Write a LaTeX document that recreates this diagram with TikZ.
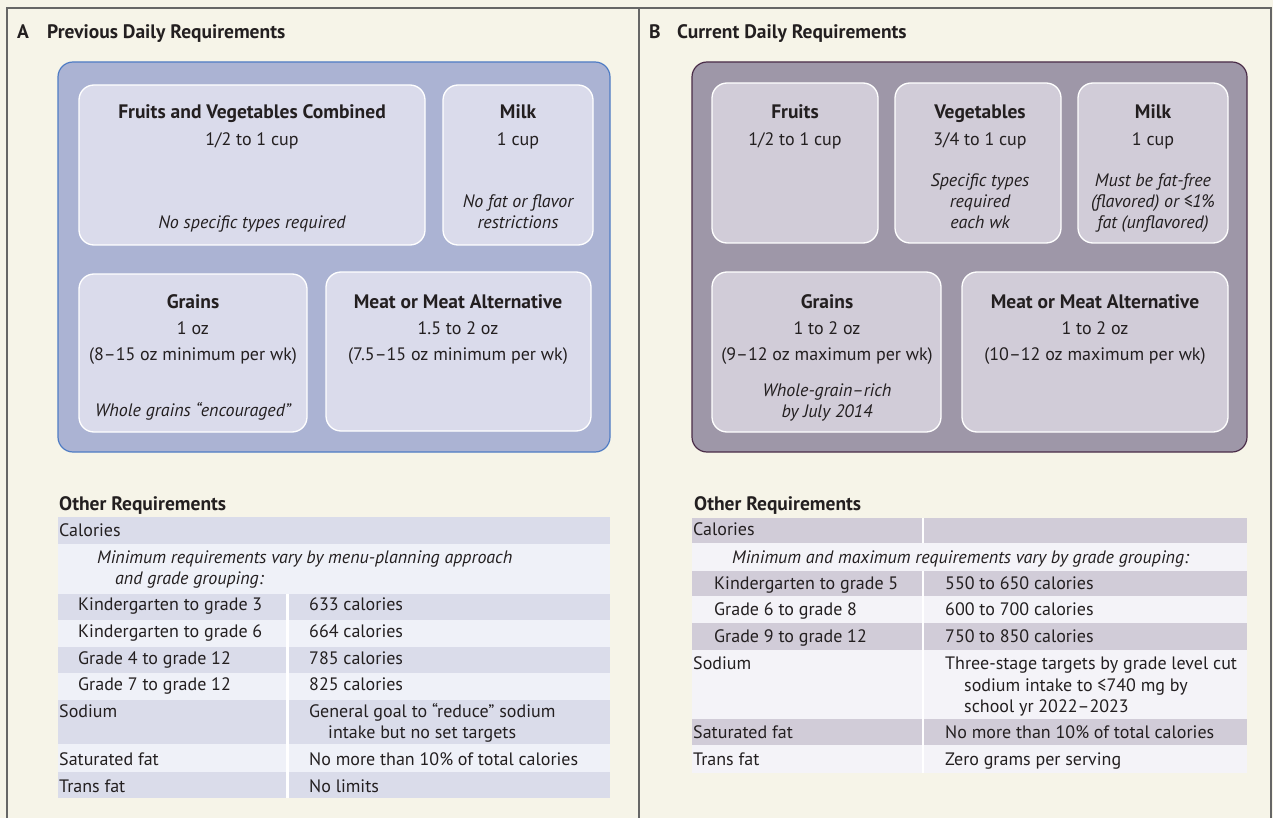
\documentclass[tikz,border=0pt]{standalone}
\usepackage{fontspec}
\setmainfont{PT Sans}
\definecolor{cream}{HTML}{F6F4E8}
\definecolor{framec}{HTML}{666666}
\definecolor{ink}{HTML}{231F20}
\definecolor{bigAfill}{HTML}{ABB3D3}
\definecolor{bigAline}{HTML}{4F7CC4}
\definecolor{inAfill}{HTML}{DADBEB}
\definecolor{rowAdark}{HTML}{DADCEA}
\definecolor{rowAlight}{HTML}{EFF1F8}
\definecolor{bigBfill}{HTML}{9E97A8}
\definecolor{bigBline}{HTML}{4A2C48}
\definecolor{inBfill}{HTML}{D1CCD8}
\definecolor{rowBdark}{HTML}{D1CCD8}
\definecolor{rowBlight}{HTML}{F4F3F8}
\tikzset{
  framel/.style={draw=framec, line width=2pt},
  bigA/.style={fill=bigAfill, draw=bigAline, line width=1.2pt, rounded corners=15pt},
  bigB/.style={fill=bigBfill, draw=bigBline, line width=1.2pt, rounded corners=15pt},
  inA/.style={fill=inAfill, draw=white, line width=1.3pt, rounded corners=15pt},
  inB/.style={fill=inBfill, draw=white, line width=1.3pt, rounded corners=15pt},
  ptitle/.style={anchor=base west, inner sep=0, text=ink, font=\bfseries\fontsize{19.5}{22}\selectfont},
  ttl/.style={anchor=base, inner sep=0, text=ink, font=\bfseries\fontsize{19.5}{22}\selectfont},
  bod/.style={anchor=base, inner sep=0, text=ink, font=\fontsize{18}{21}\selectfont},
  itl/.style={anchor=base, inner sep=0, text=ink, font=\itshape\fontsize{18}{21}\selectfont},
  lft/.style={anchor=base west, inner sep=0, text=ink, font=\fontsize{18}{21}\selectfont},
  lfti/.style={anchor=base west, inner sep=0, text=ink, font=\itshape\fontsize{18}{21}\selectfont},
  othr/.style={anchor=base west, inner sep=0, text=ink, font=\bfseries\fontsize{19.5}{22}\selectfont},
  split/.style={draw=white, line width=2.2pt}
}
\begin{document}
\begin{tikzpicture}[x=1pt,y=-1pt]
\useasboundingbox (0,0) rectangle (1273,818);
\fill[cream] (0,0) rectangle (1273,818);
\draw[framel] (7,819) -- (7,8) -- (1271,8) -- (1271,819);
\draw[framel] (639,8) -- (639,819);

% ---------- Panel A ----------
\node[ptitle] (Aletter) at (17,39) {A};
\node[ptitle] (Atitle) at (47,39) {Previous Daily Requirements};
\draw[bigA] (58,62) rectangle (610,452);
\draw[inA] (79,85) rectangle (425,245);
\draw[inA] (443,85) rectangle (593,245);
\draw[inA] (79,274) rectangle (307,432);
\draw[inA] (326,272) rectangle (591,431);

\node[ttl] (afvT) at (252,119) {Fruits and Vegetables Combined};
\node[bod] (afvA) at (252,146) {1/2 to 1 cup};
\node[itl] (afvN) at (252,229) {No specific types required};

\node[ttl] (amkT) at (518,119) {Milk};
\node[bod] (amkA) at (518,146) {1 cup};
\node[itl] (amkN1) at (518,208) {No fat or flavor};
\node[itl] (amkN2) at (518,229) {restrictions};

\node[ttl] (agrT) at (193,308) {Grains};
\node[bod] (agrA) at (193,334) {1 oz};
\node[bod] (agrW) at (193,360) {(8–15 oz minimum per wk)};
\node[itl] (agrN) at (193,416) {Whole grains “encouraged”};

\node[ttl] (amtT) at (458,308) {Meat or Meat Alternative};
\node[bod] (amtA) at (458,334) {1.5 to 2 oz};
\node[bod] (amtW) at (458,360) {(7.5–15 oz minimum per wk)};

\node[othr] (aOther) at (59,510) {Other Requirements};
\fill[rowAdark]  (58,517) rectangle (610,544);
\fill[rowAlight] (58,544) rectangle (610,594);
\fill[rowAdark]  (58,594) rectangle (610,620);
\fill[rowAlight] (58,620) rectangle (610,647);
\fill[rowAdark]  (58,647) rectangle (610,673);
\fill[rowAlight] (58,673) rectangle (610,700);
\fill[rowAdark]  (58,700) rectangle (610,744);
\fill[rowAlight] (58,744) rectangle (610,772);
\fill[rowAdark]  (58,772) rectangle (610,798);
\draw[split] (287.5,594) -- (287.5,798);

\node[lft] (aCal) at (59,536) {Calories};
\node[lfti] (aNote1) at (97,563) {Minimum requirements vary by menu-planning approach};
\node[lfti] (aNote2) at (115,584) {and grade grouping:};
\node[lft] (aK3) at (78,610) {Kindergarten to grade 3};
\node[lft] (aK3v) at (309,610) {633 calories};
\node[lft] (aK6) at (78,637) {Kindergarten to grade 6};
\node[lft] (aK6v) at (309,637) {664 calories};
\node[lft] (aG4) at (78,664) {Grade 4 to grade 12};
\node[lft] (aG4v) at (309,664) {785 calories};
\node[lft] (aG7) at (78,690) {Grade 7 to grade 12};
\node[lft] (aG7v) at (309,690) {825 calories};
\node[lft] (aNa) at (59,717) {Sodium};
\node[lft] (aNav1) at (309,717) {General goal to “reduce” sodium};
\node[lft] (aNav2) at (328,738) {intake but no set targets};
\node[lft] (aSat) at (59,765) {Saturated fat};
\node[lft] (aSatv) at (309,765) {No more than 10\% of total calories};
\node[lft] (aTr) at (59,792) {Trans fat};
\node[lft] (aTrv) at (309,792) {No limits};

% ---------- Panel B ----------
\node[ptitle] (Bletter) at (649,39) {B};
\node[ptitle] (Btitle) at (677,39) {Current Daily Requirements};
\draw[bigB] (692,62) rectangle (1247,452);
\draw[inB] (712,83) rectangle (878,243);
\draw[inB] (895,83) rectangle (1061,243);
\draw[inB] (1078,83) rectangle (1228,243);
\draw[inB] (712,272) rectangle (941,432);
\draw[inB] (962,272) rectangle (1228,432);

\node[ttl] (bfrT) at (795,119) {Fruits};
\node[bod] (bfrA) at (795,146) {1/2 to 1 cup};

\node[ttl] (bvgT) at (980,119) {Vegetables};
\node[bod] (bvgA) at (980,146) {3/4 to 1 cup};
\node[itl] (bvgN1) at (980,187) {Specific types};
\node[itl] (bvgN2) at (980,208) {required};
\node[itl] (bvgN3) at (980,229) {each wk};

\node[ttl] (bmkT) at (1153,119) {Milk};
\node[bod] (bmkA) at (1153,146) {1 cup};
\node[itl] (bmkN1) at (1153,187) {Must be fat-free};
\node[itl] (bmkN2) at (1153,208) {(flavored) or ≤1\%};
\node[itl] (bmkN3) at (1153,229) {fat (unflavored)};

\node[ttl] (bgrT) at (827,308) {Grains};
\node[bod] (bgrA) at (827,334) {1 to 2 oz};
\node[bod] (bgrW) at (827,360) {(9–12 oz maximum per wk)};
\node[itl] (bgrN1) at (827,396) {Whole-grain–rich};
\node[itl] (bgrN2) at (827,417) {by July 2014};

\node[ttl] (bmtT) at (1095,308) {Meat or Meat Alternative};
\node[bod] (bmtA) at (1095,334) {1 to 2 oz};
\node[bod] (bmtW) at (1095,360) {(10–12 oz maximum per wk)};

\node[othr] (bOther) at (694,510) {Other Requirements};
\fill[rowBdark]  (692,518) rectangle (1247,543);
\fill[rowBlight] (692,543) rectangle (1247,571);
\fill[rowBdark]  (692,571) rectangle (1247,596);
\fill[rowBlight] (692,596) rectangle (1247,623);
\fill[rowBdark]  (692,623) rectangle (1247,650);
\fill[rowBlight] (692,650) rectangle (1247,719);
\fill[rowBdark]  (692,719) rectangle (1247,745);
\fill[rowBlight] (692,745) rectangle (1247,773);
\draw[split] (923,518) -- (923,543);
\draw[split] (923,571) -- (923,773);

\node[lft] (bCal) at (693,535) {Calories};
\node[lfti] (bNote) at (732,563) {Minimum and maximum requirements vary by grade grouping:};
\node[lft] (bK5) at (714,589) {Kindergarten to grade 5};
\node[lft] (bK5v) at (945,589) {550 to 650 calories};
\node[lft] (bG6) at (714,615) {Grade 6 to grade 8};
\node[lft] (bG6v) at (945,615) {600 to 700 calories};
\node[lft] (bG9) at (714,642) {Grade 9 to grade 12};
\node[lft] (bG9v) at (945,642) {750 to 850 calories};
\node[lft] (bNa) at (693,669) {Sodium};
\node[lft] (bNav1) at (945,669) {Three-stage targets by grade level cut};
\node[lft] (bNav2) at (964,691) {sodium intake to ≤740 mg by};
\node[lft] (bNav3) at (964,712) {school yr 2022–2023};
\node[lft] (bSat) at (693,738) {Saturated fat};
\node[lft] (bSatv) at (945,738) {No more than 10\% of total calories};
\node[lft] (bTr) at (693,765) {Trans fat};
\node[lft] (bTrv) at (945,765) {Zero grams per serving};
\end{tikzpicture}
\end{document}
